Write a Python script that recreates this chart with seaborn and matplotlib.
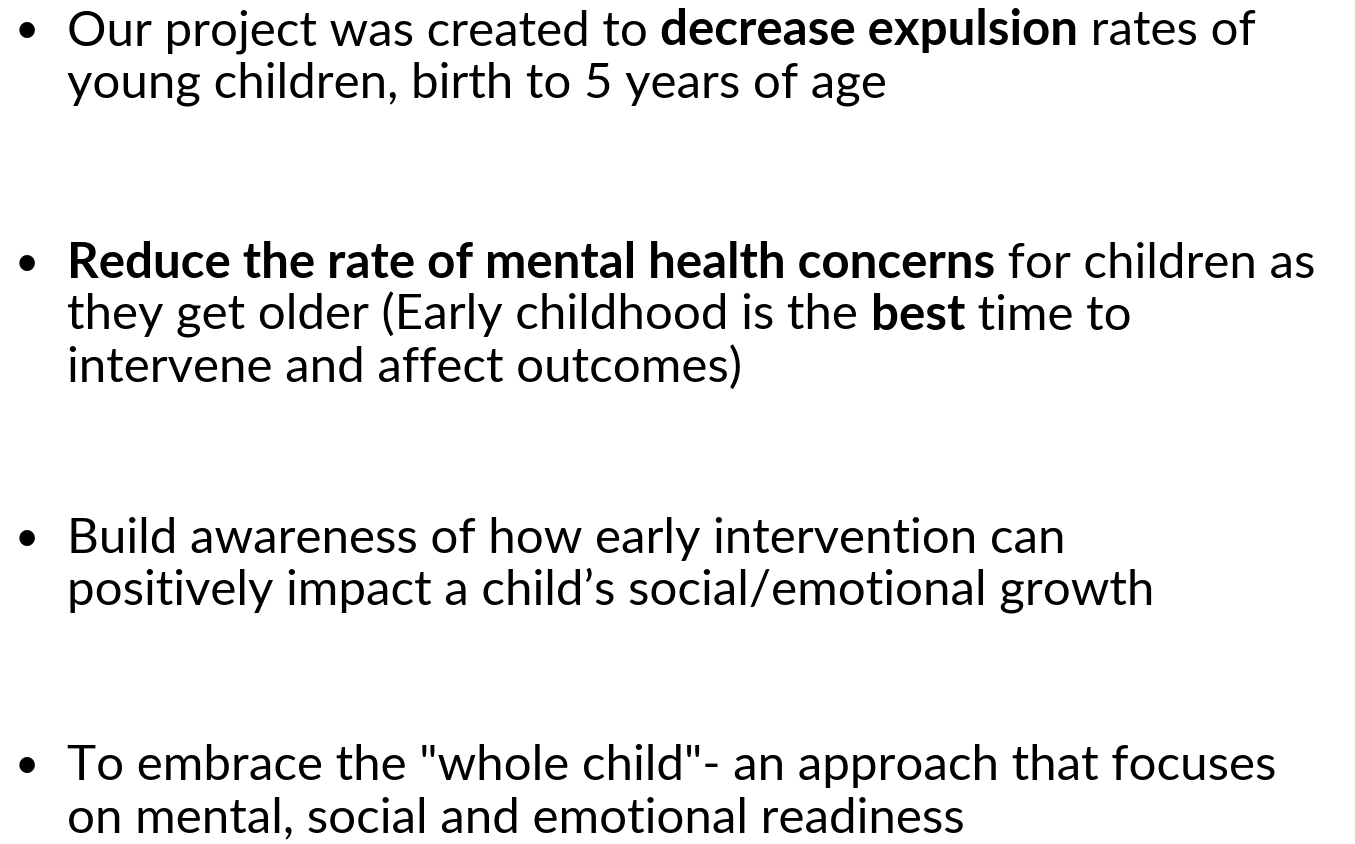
import matplotlib
matplotlib.use("Agg")
import matplotlib.pyplot as plt
import seaborn as sns

sns.set_theme(style="white")
plt.rcParams["font.family"] = ["Lato", "DejaVu Sans"]

# bullet paragraphs: each line is a list of (text, is_bold) runs
para_expulsion = [
    [("Our project was created to ", False), ("decrease expulsion", True), (" rates of", False)],
    [("young children, birth to 5 years of age", False)],
]
para_mental_health = [
    [("Reduce the rate of mental health concerns", True), (" for children as", False)],
    [("they get older (Early childhood is the ", False), ("best", True), (" time to", False)],
    [("intervene and affect outcomes)", False)],
]
para_awareness = [
    [("Build awareness of how early intervention can", False)],
    [("positively impact a child\u2019s social/emotional growth", False)],
]
para_whole_child = [
    [("To embrace the \"whole child\"- an approach that focuses", False)],
    [("on mental, social and emotional readiness", False)],
]
paragraphs = [para_expulsion, para_mental_health, para_awareness, para_whole_child]
first_baselines = [45, 278, 553, 780]

FONT_SIZE = 35.5
LINE_STEP = 52
TEXT_X = 67
BULLET_X = 27

fig = plt.figure(figsize=(13.55, 8.45), dpi=100)
ax = fig.add_axes([0, 0, 1, 1])
ax.set_xlim(0, 1355)
ax.set_ylim(845, 0)
ax.axis("off")
renderer = fig.canvas.get_renderer()


def run_width(s, weight):
    # measure with guard bars so leading/trailing spaces count
    t = ax.text(0, 0, "|" + s + "|", fontsize=FONT_SIZE, fontweight=weight)
    w = t.get_window_extent(renderer).width
    t.remove()
    g = ax.text(0, 0, "||", fontsize=FONT_SIZE, fontweight=weight)
    w -= g.get_window_extent(renderer).width
    g.remove()
    return w


for para, y0 in zip(paragraphs, first_baselines):
    ax.text(BULLET_X, y0 - 2, "\u2022", fontsize=FONT_SIZE * 0.85, ha="center", va="baseline", color="black")
    for i, line in enumerate(para):
        y = y0 + i * LINE_STEP
        x = TEXT_X
        for text, bold in line:
            weight = "bold" if bold else "normal"
            ax.text(x, y, text, fontsize=FONT_SIZE, fontweight=weight,
                    ha="left", va="baseline", color="black")
            x += run_width(text, weight)

fig.savefig("out.png", dpi=100, facecolor="white")
